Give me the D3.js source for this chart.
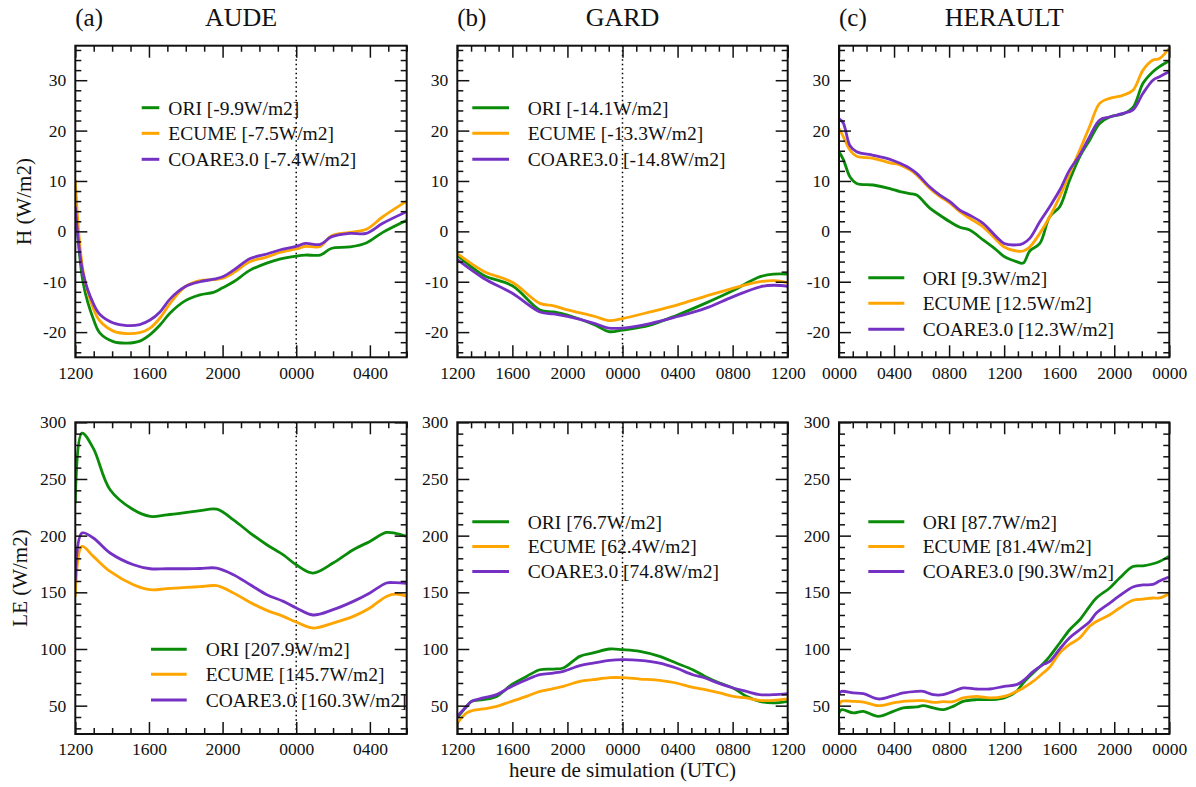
<!DOCTYPE html>
<html><head><meta charset="utf-8">
<script src="https://cdn.jsdelivr.net/npm/d3@7"></script>
<style>
body{margin:0;background:#fff;}
svg text{font-family:"Liberation Serif","Times New Roman",serif;fill:#111;}
</style></head>
<body><svg id="c" width="1196" height="787"></svg>
<script>
// ---------------- DATA ----------------
const seriesNames = ["ORI","ECUME","COARE3.0"];
const seriesColors = ["#0a8c0a","#ffa500","#7530c4"];

const hTicks = [-20,-10,0,10,20,30];
const leTicks = [50,100,150,200,250,300];
const ticksAude = ["1200","1600","2000","0000","0400"];
const ticksGard = ["1200","1600","2000","0000","0400","0800","1200"];
const ticksHerault = ["0000","0400","0800","1200","1600","2000","0000"];

// hours elapsed since the panel start
const audeH_hours = [0,0.43,1,1.34,2.07,2.8,3.5,4.06,4.6,5.15,5.96,6.77,7.5,8,8.6,9.5,10.4,11.1,12,12.5,13.3,13.9,14.9,15.8,16.7,18];
const audeH_ori   = [7,-10.3,-17.6,-20.2,-21.9,-22.2,-21.8,-20.5,-18.6,-16.2,-13.8,-12.6,-12.1,-11.2,-10,-7.7,-6.3,-5.5,-4.9,-4.7,-4.7,-3.4,-3.1,-2.3,-0.2,2.2];
const audeH_ecume = [10.2,-8,-15.5,-17.8,-19.8,-20.3,-20.1,-19.2,-17.2,-14.3,-11,-9.8,-9.6,-9.3,-8.2,-6,-5.1,-4.2,-3.5,-3,-3,-0.9,-0.2,0.4,2.9,6];
const audeH_coare = [4.9,-8.5,-14.5,-16.5,-18.2,-18.7,-18.5,-17.6,-16,-13.4,-11,-10,-9.5,-9,-7.7,-5.4,-4.5,-3.7,-3,-2.4,-2.6,-1.1,-0.4,-0.4,1.6,3.9];
const audeH_legend = ["ORI [-9.9W/m2]","ECUME [-7.5W/m2]","COARE3.0 [-7.4W/m2]"];

const gardH_hours = [0,1.9,4,6,7,8,10,11,12,14,16,18,20,22,23,24];
const gardH_ori   = [-4.7,-8.7,-10.8,-15.6,-16,-16.6,-18.6,-19.9,-19.6,-18.6,-16.6,-14.3,-11.8,-9,-8.5,-8.5];
const gardH_ecume = [-4.4,-7.9,-10.1,-14.3,-14.8,-15.6,-16.9,-17.7,-17.3,-16,-14.6,-12.9,-11.3,-10,-9.8,-10.2];
const gardH_coare = [-5.6,-9.3,-12.3,-16,-16.4,-16.9,-18.3,-19.2,-19.2,-18.3,-16.9,-15.3,-13,-11,-10.7,-10.9];
const gardH_legend = ["ORI [-14.1W/m2]","ECUME [-13.3W/m2]","COARE3.0 [-14.8W/m2]"];

const heraultH_hours = [0,0.31,0.8,1.28,2.49,3.7,4.43,5.15,5.64,6.6,7.33,8.06,8.78,9.5,10.47,11.44,12,12.89,13.38,13.86,14.59,15.31,16.04,16.76,17.49,18.21,18.94,19.67,20.63,21.36,22.09,22.81,23.29,23.97];
const heraultH_ori   = [15.8,14.3,10.8,9.5,9.2,8.5,7.9,7.5,7.2,4.6,3.2,1.9,0.8,0.26,-1.7,-3.7,-5,-6,-6.3,-3.9,-2.4,2.9,4.9,10.2,14.8,18.1,21.4,22.7,23.3,24.6,29.4,31.7,32.7,33.8];
const heraultH_ecume = [20.4,18.8,16.1,14.9,14.5,13.6,13.2,12.2,11.2,8.5,6.9,5.6,3.9,2.6,0.9,-1.7,-3.1,-3.9,-3.9,-3.1,-0.4,2.9,6.9,11.5,16.1,20.8,25.4,26.4,27,28,32,34,34.3,36.3];
const heraultH_coare = [22.4,21.5,17,15.8,15.1,14.3,13.5,12.5,11.5,8.8,7.2,5.9,4.2,3.2,1.6,-1.1,-2.4,-2.7,-2.4,-1.4,1.9,4.9,8.2,12.2,15.1,18.8,22.1,22.7,23.4,24.1,27.4,30,30.7,31.7];
const heraultH_legend = ["ORI [9.3W/m2]","ECUME [12.5W/m2]","COARE3.0 [12.3W/m2]"];

const audeLE_hours = [0,0.36,0.98,1.89,3.16,4.07,4.97,6.05,6.78,7.68,8.59,9.5,10.4,11.3,12,12.9,14,15.1,16,16.9,17.4,18];
const audeLE_ori   = [228.7,290.5,277,240.5,222.8,217,218.4,220.5,222,223.4,214,202.3,192,183,174.3,167,175.8,187.6,194.9,202.8,202,199.3];
const audeLE_ecume = [146.4,190.5,181.7,168.4,156.7,152.3,153.2,154.3,155,155.8,149.4,141.1,134.1,128.8,123.8,118.5,122.9,128.8,136.2,146.4,148.5,146.5];
const audeLE_coare = [161,202.3,197.9,184.7,174.3,170.8,170.8,170.8,171,171.4,165.5,156.7,147.9,142,136.2,130,134.7,142,149.4,158.2,158.5,158];
const audeLE_legend = ["ORI [207.9W/m2]","ECUME [145.7W/m2]","COARE3.0 [160.3W/m2]"];

const gardLE_hours = [0,0.68,1.04,1.89,2.86,3.94,5.03,6,6.97,7.7,8.9,9.87,11.08,12,13.26,14.7,15.9,17.1,18,19.06,20.03,21,21.96,22.93,24];
const gardLE_ori   = [39.2,49.4,53.8,55.3,58.2,68.5,75.8,81.7,82.3,83.2,93.5,96.5,100,99.4,97.9,93.5,87.6,81.7,75.8,70,65.6,58.2,53.8,52.4,53.8];
const gardLE_ecume = [34.7,43.6,45.5,47.1,49.4,53.8,58.2,62.6,65,67,71.4,72.9,74.7,74.7,73.5,72.3,70,66.1,64.1,61.2,58.2,56.8,54.7,54.7,55.9];
const gardLE_coare = [40.6,49.4,53.8,56.8,59.7,67,72.9,77.3,78.8,80.3,85.3,87.6,90,90.6,90,87.6,83.2,77.3,74.4,69.4,65.6,62.6,59.7,59.7,60.6];
const gardLE_legend = ["ORI [76.7W/m2]","ECUME [62.4W/m2]","COARE3.0 [74.8W/m2]"];

const heraultLE_hours = [0,0.19,1.04,1.77,2.85,3.94,4.67,5.64,6.12,6.85,7.57,8.3,9.02,9.99,10.96,12,12.9,13.38,14.1,14.83,15.31,16.04,16.76,17.49,18.21,18.7,19.67,20.39,21.36,22.09,22.81,23.29,23.97];
const heraultLE_ori   = [43.6,46.5,43.6,45,40.6,45,48,48.9,50,48,46.5,49.4,53.8,55.3,55.3,56.8,62.6,70,78.8,87,93.5,105.3,117,125.8,137.6,145,153.8,162.6,172.8,173.4,175.2,177.2,181.7];
const heraultLE_ecume = [50.9,53.8,53.8,53.2,50,52.4,53.8,54.4,54.4,52.9,53.5,53.5,56.8,58.2,56.8,58.2,62.6,65.6,71.4,78.8,84,96.5,104,109.7,120,124.3,130.2,136.2,143,144,145,145,148.8];
const heraultLE_coare = [60.6,62.6,61.2,60.6,55.9,58.8,61.2,62.6,62.6,59.7,59.7,62.6,65.6,64.7,64.7,67,68.5,72,80,86.2,89,100,110,117,124,131.7,140.5,147,154.7,156.5,157,160,163.5];
const heraultLE_legend = ["ORI [87.7W/m2]","ECUME [81.4W/m2]","COARE3.0 [90.3W/m2]"];

// ---------------- LAYOUT ----------------
const svg = d3.select("#c");
const colX = [[75.3,406.7],[457.3,787.7],[839,1169.3]];
const rowTop = {top:[45.7,357.3], bottom:[422.3,734]};

const panels = [
  {col:0,row:"top",hours:audeH_hours,vals:[audeH_ori,audeH_ecume,audeH_coare],legend:audeH_legend,xMax:18,xLabels:ticksAude,yDom:[-25,36.85],yTicks:hTicks,yMinor:2,midnight:12,leg:{x1:141.7,x2:159.3,tx:168.3,ys:[107.7,133.3,159.3]}},
  {col:1,row:"top",hours:gardH_hours,vals:[gardH_ori,gardH_ecume,gardH_coare],legend:gardH_legend,xMax:24,xLabels:ticksGard,yDom:[-25,36.85],yTicks:hTicks,yMinor:2,midnight:12,leg:{x1:472.3,x2:509,tx:527.7,ys:[107.7,133.3,159.3]}},
  {col:2,row:"top",hours:heraultH_hours,vals:[heraultH_ori,heraultH_ecume,heraultH_coare],legend:heraultH_legend,xMax:24,xLabels:ticksHerault,yDom:[-25,36.85],yTicks:hTicks,yMinor:2,midnight:null,leg:{x1:868.3,x2:904.3,tx:922.7,ys:[277.7,303.3,329.3]}},
  {col:0,row:"bottom",hours:audeLE_hours,vals:[audeLE_ori,audeLE_ecume,audeLE_coare],legend:audeLE_legend,xMax:18,xLabels:ticksAude,yDom:[25,300],yTicks:leTicks,yMinor:10,midnight:12,leg:{x1:151,x2:186.7,tx:205.7,ys:[649.3,674.3,700]}},
  {col:1,row:"bottom",hours:gardLE_hours,vals:[gardLE_ori,gardLE_ecume,gardLE_coare],legend:gardLE_legend,xMax:24,xLabels:ticksGard,yDom:[25,300],yTicks:leTicks,yMinor:10,midnight:12,leg:{x1:472.3,x2:509,tx:527.7,ys:[521.7,546.5,571.5]}},
  {col:2,row:"bottom",hours:heraultLE_hours,vals:[heraultLE_ori,heraultLE_ecume,heraultLE_coare],legend:heraultLE_legend,xMax:24,xLabels:ticksHerault,yDom:[25,300],yTicks:leTicks,yMinor:10,midnight:null,leg:{x1:868.3,x2:904.3,tx:922.7,ys:[521.7,546.5,571.5]}}
];

panels.forEach(p => {
  const [x0,x1] = colX[p.col];
  const [y0,y1] = rowTop[p.row];
  const x = d3.scaleLinear().domain([0,p.xMax]).range([x0,x1]);
  const y = d3.scaleLinear().domain(p.yDom).range([y1,y0]);
  const g = svg.append("g");

  const cid = "clip"+p.col+p.row;
  svg.append("clipPath").attr("id",cid).append("rect").attr("x",x0).attr("y",y0).attr("width",x1-x0).attr("height",y1-y0);
  const line = d3.line().x(d=>x(d[0])).y(d=>y(d[1])).curve(d3.curveCatmullRom.alpha(0.5));
  const cg = g.append("g").attr("clip-path","url(#"+cid+")");
  if (p.midnight !== null) {
    cg.append("line").attr("x1",x(p.midnight)).attr("x2",x(p.midnight)).attr("y1",y0).attr("y2",y1)
      .attr("stroke","#000").attr("stroke-width",1.5).attr("stroke-dasharray","1.5,3");
  }
  p.vals.forEach((vals,i) => {
    cg.append("path").datum(p.hours.map((h,k)=>[h,vals[k]]))
      .attr("fill","none").attr("stroke",seriesColors[i]).attr("stroke-width",2.8)
      .attr("stroke-linejoin","round").attr("d",line);
  });

  const majorX = d3.range(0,p.xMax+0.01,4);
  const minorX = d3.range(0,p.xMax+0.01,1).filter(v=>v%4!==0);
  const majorY = p.yTicks;
  const minorY = d3.range(Math.ceil(p.yDom[0]/p.yMinor)*p.yMinor, p.yDom[1]+0.01, p.yMinor).filter(v=>!majorY.includes(v));
  const sty = sel => { sel.select(".domain").remove(); sel.selectAll("line").attr("stroke","#111").attr("stroke-width",1.5);
                        sel.selectAll("text").attr("font-size","17.5px").attr("font-family","'Liberation Serif',serif").attr("fill","#111"); };
  g.append("g").attr("transform",`translate(0,${y1})`).call(d3.axisBottom(x).tickValues(majorX).tickSize(-12).tickPadding(9).tickFormat((d,i)=>p.xLabels[i])).call(sty);
  g.append("g").attr("transform",`translate(0,${y1})`).call(d3.axisBottom(x).tickValues(minorX).tickSize(-6).tickFormat("")).call(sty);
  g.append("g").attr("transform",`translate(0,${y0})`).call(d3.axisTop(x).tickValues(majorX).tickSize(-12).tickFormat("")).call(sty);
  g.append("g").attr("transform",`translate(0,${y0})`).call(d3.axisTop(x).tickValues(minorX).tickSize(-6).tickFormat("")).call(sty);
  g.append("g").attr("transform",`translate(${x0},0)`).call(d3.axisLeft(y).tickValues(majorY).tickSize(-12).tickPadding(9).tickFormat(d=>String(d))).call(sty);
  g.append("g").attr("transform",`translate(${x0},0)`).call(d3.axisLeft(y).tickValues(minorY).tickSize(-6).tickFormat("")).call(sty);
  g.append("g").attr("transform",`translate(${x1},0)`).call(d3.axisRight(y).tickValues(majorY).tickSize(-12).tickFormat("")).call(sty);
  g.append("g").attr("transform",`translate(${x1},0)`).call(d3.axisRight(y).tickValues(minorY).tickSize(-6).tickFormat("")).call(sty);
  g.append("rect").attr("x",x0).attr("y",y0).attr("width",x1-x0).attr("height",y1-y0)
    .attr("fill","none").attr("stroke","#111").attr("stroke-width",2);

  p.legend.forEach((t,i)=>{
    const ly = p.leg.ys[i];
    g.append("line").attr("x1",p.leg.x1).attr("x2",p.leg.x2).attr("y1",ly).attr("y2",ly)
      .attr("stroke",seriesColors[i]).attr("stroke-width",3);
    g.append("text").attr("x",p.leg.tx).attr("y",ly).attr("dy","0.35em").attr("font-size","19.5px").text(t);
  });
});

const titles = [["(a)","AUDE"],["(b)","GARD"],["(c)","HERAULT"]];
titles.forEach((t,i)=>{
  const [x0,x1] = colX[i];
  svg.append("text").attr("x",x0).attr("y",26).attr("font-size","25px").text(t[0]);
  svg.append("text").attr("x",(x0+x1)/2).attr("y",26).attr("font-size","26px").attr("text-anchor","middle").text(t[1]);
});
svg.append("text").attr("transform","translate(24,201.5) rotate(-90)").attr("text-anchor","middle").attr("dominant-baseline","central").attr("font-size","21px").text("H (W/m2)");
svg.append("text").attr("transform","translate(20,578) rotate(-90)").attr("text-anchor","middle").attr("dominant-baseline","central").attr("font-size","21px").text("LE (W/m2)");
svg.append("text").attr("x",622.5).attr("y",777).attr("text-anchor","middle").attr("font-size","21px").text("heure de simulation (UTC)");
</script></body></html>
